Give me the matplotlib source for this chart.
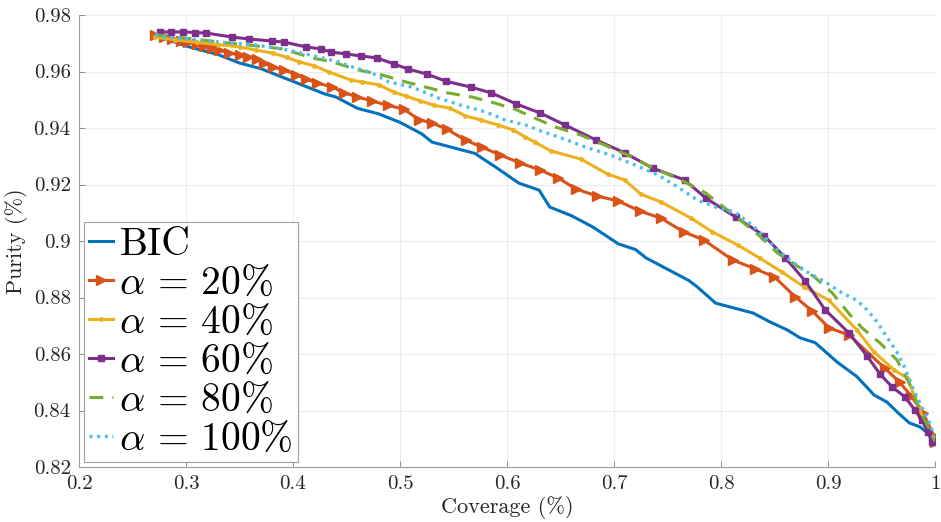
import numpy as np
import matplotlib
matplotlib.use("Agg")
import matplotlib.pyplot as plt

plt.rcParams['font.family'] = 'cmr10'
plt.rcParams['mathtext.fontset'] = 'cm'
plt.rcParams['axes.formatter.use_mathtext'] = True

# data
bic_x = [0.271, 0.30, 0.33, 0.35, 0.37, 0.39, 0.41, 0.43, 0.44, 0.46, 0.48, 0.50, 0.52, 0.53,
         0.55, 0.57, 0.59, 0.611, 0.63, 0.640, 0.66, 0.68, 0.704, 0.72, 0.73, 0.75, 0.77, 0.778,
         0.795, 0.809, 0.83, 0.845, 0.862, 0.874, 0.888, 0.90, 0.909, 0.927, 0.943, 0.955,
         0.966, 0.976, 0.986, 0.992, 1.0]
bic_y = [0.973, 0.969, 0.966, 0.963, 0.961, 0.958, 0.955, 0.952, 0.951, 0.947, 0.945, 0.942,
         0.938, 0.935, 0.933, 0.931, 0.926, 0.9205, 0.918, 0.912, 0.909, 0.905, 0.899, 0.897,
         0.894, 0.890, 0.886, 0.8837, 0.878, 0.8766, 0.8745, 0.8715, 0.8685, 0.8657, 0.864,
         0.860, 0.857, 0.852, 0.8455, 0.843, 0.839, 0.8356, 0.8342, 0.8324, 0.829]

a20_x = [0.271, 0.279, 0.287, 0.295, 0.302, 0.310, 0.317, 0.324, 0.331, 0.340, 0.350, 0.358,
         0.366, 0.373, 0.381, 0.392, 0.403, 0.412, 0.422, 0.4365, 0.4477, 0.4598, 0.4737,
         0.4886, 0.5035, 0.5175, 0.5296, 0.5436, 0.5613, 0.5762, 0.5939, 0.6125, 0.6311,
         0.6479, 0.6646, 0.6842, 0.7037, 0.7242, 0.7438, 0.7652, 0.7838, 0.8108, 0.8322,
         0.8499, 0.8695, 0.8853, 0.9011, 0.9197, 0.953, 0.967, 0.978, 0.989, 0.999, 1.0]
a20_y = [0.9729, 0.9722, 0.9715, 0.9709, 0.9703, 0.9697, 0.9690, 0.9683, 0.9676, 0.9667,
         0.9658, 0.9652, 0.9646, 0.9630, 0.9616, 0.9605, 0.9588, 0.9574, 0.956, 0.9545,
         0.9525, 0.951, 0.9496, 0.948, 0.9467, 0.943, 0.9418, 0.9396, 0.9357, 0.9333, 0.9304,
         0.9276, 0.9251, 0.9223, 0.9184, 0.9159, 0.9142, 0.9106, 0.9081, 0.9032, 0.9004,
         0.8933, 0.8901, 0.8873, 0.8802, 0.8752, 0.8692, 0.8667, 0.855, 0.850, 0.845, 0.839,
         0.831, 0.829]

a40_x = [0.271, 0.29, 0.31, 0.33, 0.35, 0.365, 0.381, 0.394, 0.406, 0.42, 0.4337, 0.454,
         0.4644, 0.480, 0.4942, 0.5054, 0.519, 0.532, 0.547, 0.561, 0.576, 0.592, 0.606,
         0.617, 0.626, 0.641, 0.669, 0.694, 0.710, 0.725, 0.744, 0.772, 0.792, 0.8155, 0.836,
         0.857, 0.878, 0.901, 0.927, 0.943, 0.962, 0.974, 0.985, 0.992, 1.0]
a40_y = [0.9722, 0.9712, 0.9703, 0.9695, 0.9687, 0.9676, 0.9665, 0.965, 0.9634, 0.962,
         0.9598, 0.957, 0.9563, 0.9553, 0.9527, 0.9513, 0.9496, 0.948, 0.947, 0.9443, 0.9428,
         0.941, 0.9393, 0.9368, 0.935, 0.9319, 0.929, 0.9237, 0.9216, 0.9166, 0.9138, 0.9081,
         0.9032, 0.8986, 0.894, 0.889, 0.8837, 0.879, 0.8685, 0.8607, 0.8543, 0.8515, 0.8412,
         0.834, 0.829]

a60_x = [0.2754, 0.286, 0.297, 0.308, 0.319, 0.343, 0.359, 0.380, 0.392, 0.412, 0.426, 0.4356,
         0.4495, 0.4635, 0.4784, 0.4942, 0.5073, 0.525, 0.5426, 0.566, 0.5855, 0.6088, 0.631,
         0.654, 0.683, 0.710, 0.736, 0.766, 0.7857, 0.8136, 0.8406, 0.8602, 0.8788, 0.8974,
         0.9197, 0.9365, 0.9486, 0.960, 0.9719, 0.9812, 0.9877, 0.9933, 0.997]
a60_y = [0.974, 0.974, 0.974, 0.9738, 0.9736, 0.9722, 0.9715, 0.9708, 0.9704, 0.9687, 0.968,
         0.9669, 0.9662, 0.9655, 0.9648, 0.9627, 0.9609, 0.9591, 0.9566, 0.9545, 0.9524,
         0.9485, 0.9453, 0.9411, 0.9358, 0.9312, 0.9258, 0.9216, 0.9152, 0.9085, 0.9018,
         0.894, 0.8858, 0.8756, 0.8674, 0.8593, 0.8529, 0.8483, 0.8448, 0.8402, 0.8366,
         0.8324, 0.829]

a80_x = [0.271, 0.30, 0.33, 0.36, 0.39, 0.418, 0.4365, 0.4616, 0.483, 0.5054, 0.527, 0.545,
         0.567, 0.589, 0.609, 0.626, 0.645, 0.669, 0.691, 0.713, 0.7345, 0.7625, 0.7857, 0.818,
         0.836, 0.8527, 0.871, 0.8872, 0.904, 0.9207, 0.932, 0.9486, 0.9644, 0.9756, 0.983,
         0.9905, 0.997, 1.0]
a80_y = [0.973, 0.9718, 0.9705, 0.9693, 0.968, 0.9648, 0.9634, 0.9605, 0.9588, 0.9563, 0.9542,
         0.9524, 0.951, 0.9488, 0.9464, 0.9435, 0.9404, 0.9375, 0.934, 0.9304, 0.9262, 0.9216,
         0.917, 0.9074, 0.9018, 0.8958, 0.8912, 0.8873, 0.8816, 0.8738, 0.8692, 0.8639, 0.8579,
         0.850, 0.8427, 0.8366, 0.8313, 0.829]

a100_x = [0.271, 0.28, 0.31, 0.334, 0.359, 0.39, 0.42, 0.443, 0.452, 0.4737, 0.4896, 0.511,
          0.536, 0.5575, 0.580, 0.5985, 0.62, 0.629, 0.6505, 0.673, 0.697, 0.7196, 0.741,
          0.7596, 0.778, 0.795, 0.8127, 0.829, 0.848, 0.864, 0.8806, 0.8974, 0.9115, 0.927,
          0.9365, 0.946, 0.955, 0.9644, 0.972, 0.980, 0.9877, 0.994, 0.999, 1.0]
a100_y = [0.973, 0.9722, 0.9712, 0.9703, 0.9697, 0.968, 0.9655, 0.9634, 0.962, 0.9595, 0.9563,
          0.9545, 0.9506, 0.948, 0.9457, 0.9428, 0.9408, 0.9393, 0.9365, 0.9333, 0.9304,
          0.9269, 0.9234, 0.9191, 0.9145, 0.912, 0.9103, 0.9057, 0.8986, 0.8933, 0.889, 0.8855,
          0.882, 0.879, 0.8756, 0.8713, 0.866, 0.8607, 0.855, 0.8473, 0.8412, 0.8366, 0.8313,
          0.829]

labels = ['BIC', r'$\alpha\,=\,20\%$', r'$\alpha\,=\,40\%$', r'$\alpha\,=\,60\%$',
          r'$\alpha\,=\,80\%$', r'$\alpha\,=\,100\%$']
colors = ['#0072BD', '#D95319', '#EDB120', '#7E2F8E', '#77AC30', '#4DBEEE']
x_ticks = [0.2, 0.3, 0.4, 0.5, 0.6, 0.7, 0.8, 0.9, 1.0]
x_ticklabels = ['0.2', '0.3', '0.4', '0.5', '0.6', '0.7', '0.8', '0.9', '1']
y_ticks = [0.82, 0.84, 0.86, 0.88, 0.9, 0.92, 0.94, 0.96, 0.98]
y_ticklabels = ['0.82', '0.84', '0.86', '0.88', '0.9', '0.92', '0.94', '0.96', '0.98']

fig = plt.figure(figsize=(9.41, 5.22), dpi=100)
ax = fig.add_axes([79/941, 55/522, 856/941, 452/522])

ax.plot(bic_x, bic_y, color=colors[0], lw=2.2, label=labels[0])
ax.plot(a20_x, a20_y, color=colors[1], lw=2.2, marker='>', ms=7, label=labels[1])
ax.plot(a40_x, a40_y, color=colors[2], lw=2.2, marker='.', ms=5, label=labels[2])
ax.plot(a60_x, a60_y, color=colors[3], lw=2.2, marker='s', ms=5, label=labels[3])
ax.plot(a80_x, a80_y, color=colors[4], lw=2.2, ls=(0, (4.5, 3)), label=labels[4])
ax.plot(a100_x, a100_y, color=colors[5], lw=2.4, ls=(0, (0.9, 1.4)), label=labels[5])

ax.set_xlim(0.2, 1.0)
ax.set_ylim(0.82, 0.98)
ax.set_xticks(x_ticks)
ax.set_xticklabels(x_ticklabels)
ax.set_yticks(y_ticks)
ax.set_yticklabels(y_ticklabels)
ax.tick_params(direction='in', length=4, width=0.6, colors='#808080', labelcolor='#262626',
               labelsize=15, pad=6)
ax.grid(True, color='#ececec', lw=0.8)
ax.set_axisbelow(True)
for s in ['top', 'right']:
    ax.spines[s].set_visible(False)
for s in ['left', 'bottom']:
    ax.spines[s].set_color('#a0a0a0')
    ax.spines[s].set_linewidth(0.8)

ax.set_xlabel('Coverage (%)', fontsize=16, color='#262626', labelpad=2)
ax.set_ylabel('Purity (%)', fontsize=16, color='#262626', labelpad=4)

leg = ax.legend(loc='lower left', bbox_to_anchor=(0.006, 0.01), fontsize=28.5,
                handlelength=0.62, handletextpad=0.15, labelspacing=0.08, borderpad=0.12,
                borderaxespad=0, fancybox=False, framealpha=1)
leg.get_frame().set_edgecolor('#a0a0a0')
leg.get_frame().set_linewidth(0.8)

fig.savefig('out.png', dpi=100)
